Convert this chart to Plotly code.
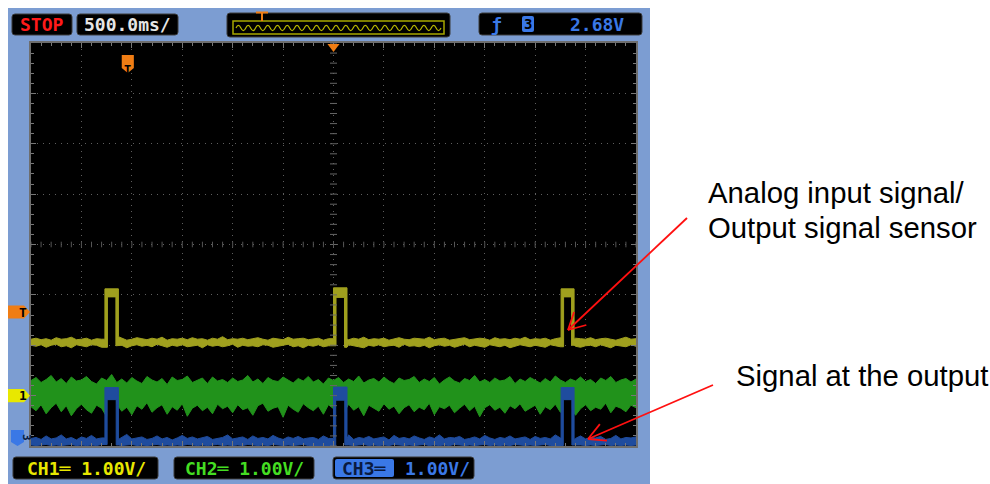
import math
import numpy as np
import plotly.graph_objects as go

# ---------------- data ----------------
# time axis: 500 ms/div, 12 divisions -> -3 s .. 3 s ; vertical: 1 V/div, 8 divisions
X_RANGE = [-3.0, 3.0]
Y_RANGE = [-4.0, 4.0]

# pulse windows (s) shared by CH1 and CH3
pulse_start = [-2.267, 0.0, 2.257]
pulse_end = [-2.133, 0.134, 2.386]

# CH1 (yellow) – baseline noise envelope and pulse plateau
yellow_hi = [
    -1.88, -1.86, -1.89, -1.87, -1.90, -1.85, -1.88, -1.87, -1.84, -1.89, -1.88,
    -1.86, -1.90, -1.87, -1.88, -1.83, -1.89, -1.87, -1.86, -1.90, -1.88, -1.85,
    -1.87, -1.89, -1.86, -1.88, -1.84, -1.90, -1.87, -1.88, -1.86, -1.89, -1.85,
    -1.88, -1.87, -1.90, -1.86, -1.88, -1.83, -1.89, -1.87, -1.88, -1.86, -1.89,
    -1.87, -1.85, -1.88, -1.90, -1.86, -1.87, -1.89, -1.84, -1.88, -1.87, -1.86,
    -1.89, -1.88, -1.86, -1.90, -1.87, -1.85, -1.88, -1.87, -1.89, -1.86, -1.88,
    -1.84, -1.89, -1.87, -1.88, -1.86, -1.90, -1.87, -1.85, -1.88, -1.89, -1.86,
    -1.87, -1.88, -1.84, -1.89, -1.87, -1.86, -1.90, -1.88, -1.87, -1.85, -1.89,
    -1.88, -1.86, -1.87, -1.90, -1.85, -1.88, -1.87, -1.89, -1.86, -1.88, -1.84,
    -1.89, -1.87, -1.88, -1.86, -1.90, -1.87, -1.85, -1.88, -1.89, -1.86, -1.87,
    -1.88, -1.85, -1.89, -1.87, -1.86, -1.88, -1.90, -1.87, -1.84, -1.88, -1.87,
]
yellow_lo = [
    -2.00, -2.02, -1.99, -2.04, -2.00, -1.98, -2.03, -2.01, -2.05, -1.99, -2.01,
    -2.03, -1.99, -2.00, -2.04, -2.01, -1.98, -2.02, -2.00, -2.05, -2.01, -1.99,
    -2.02, -2.00, -2.03, -1.98, -2.01, -2.04, -2.00, -2.02, -1.99, -2.03, -2.01,
    -2.00, -2.05, -1.99, -2.02, -2.00, -2.03, -2.01, -1.98, -2.04, -2.00, -2.02,
    -2.01, -2.03, -1.99, -2.00, -2.04, -2.02, -2.00, -1.98, -2.03, -2.01, -2.05,
    -2.00, -2.02, -1.99, -2.03, -2.01, -2.00, -2.04, -2.02, -1.99, -2.01, -2.03,
    -2.05, -2.00, -2.02, -1.99, -2.03, -2.01, -2.00, -2.04, -1.98, -2.02, -2.01,
    -2.03, -2.00, -2.05, -2.01, -1.99, -2.02, -2.00, -2.04, -2.01, -1.98, -2.03,
    -2.00, -2.02, -2.04, -1.99, -2.01, -2.03, -2.00, -2.05, -2.02, -1.99, -2.01,
    -2.03, -2.00, -2.02, -2.04, -1.99, -2.01, -2.03, -2.00, -1.98, -2.02, -2.04,
    -2.01, -2.00, -2.03, -1.99, -2.02, -2.05, -2.00, -2.01, -2.03, -1.99, -2.02,
]
yellow_top_hi = [-0.88, -0.86, -0.88]
yellow_top_lo = [-1.04, -1.05, -1.04]

# CH2 (green) – noise band envelope
green_hi = [
    -2.70, -2.64, -2.74, -2.68, -2.60, -2.73, -2.66, -2.76, -2.63, -2.71, -2.69,
    -2.62, -2.72, -2.77, -2.65, -2.70, -2.58, -2.74, -2.67, -2.75, -2.64, -2.71,
    -2.76, -2.62, -2.69, -2.73, -2.66, -2.78, -2.63, -2.70, -2.68, -2.61, -2.74,
    -2.70, -2.65, -2.76, -2.63, -2.71, -2.68, -2.74, -2.65, -2.72, -2.69, -2.60,
    -2.73, -2.67, -2.76, -2.64, -2.70, -2.72, -2.63, -2.69, -2.75, -2.66, -2.71,
    -2.62, -2.73, -2.68, -2.77, -2.65, -2.70, -2.64, -2.74, -2.67, -2.72, -2.61,
    -2.75, -2.69, -2.66, -2.73, -2.63, -2.71, -2.76, -2.65, -2.70, -2.68, -2.62,
    -2.74, -2.67, -2.72, -2.64, -2.77, -2.69, -2.63, -2.71, -2.75, -2.66, -2.70,
    -2.60, -2.73, -2.68, -2.74, -2.65, -2.71, -2.69, -2.62, -2.76, -2.67, -2.72,
    -2.64, -2.70, -2.75, -2.66, -2.73, -2.61, -2.69, -2.74, -2.67, -2.71, -2.63,
    -2.72, -2.68, -2.76, -2.65, -2.70, -2.62, -2.74, -2.69, -2.66, -2.73, -2.67,
]
green_lo = [
    -3.22, -3.30, -3.18, -3.36, -3.24, -3.15, -3.32, -3.20, -3.40, -3.26, -3.17,
    -3.28, -3.35, -3.19, -3.25, -3.42, -3.21, -3.16, -3.31, -3.23, -3.38, -3.20,
    -3.27, -3.14, -3.33, -3.24, -3.18, -3.37, -3.22, -3.29, -3.16, -3.41, -3.25,
    -3.19, -3.30, -3.23, -3.36, -3.17, -3.26, -3.21, -3.34, -3.18, -3.28, -3.24,
    -3.39, -3.20, -3.15, -3.31, -3.25, -3.22, -3.43, -3.19, -3.27, -3.33, -3.16,
    -3.24, -3.30, -3.21, -3.37, -3.18, -3.26, -3.23, -3.35, -3.17, -3.29, -3.22,
    -3.40, -3.19, -3.25, -3.31, -3.16, -3.27, -3.21, -3.36, -3.24, -3.18, -3.32,
    -3.23, -3.28, -3.15, -3.38, -3.22, -3.26, -3.19, -3.34, -3.25, -3.17, -3.30,
    -3.21, -3.42, -3.24, -3.18, -3.29, -3.23, -3.35, -3.20, -3.26, -3.16, -3.31,
    -3.25, -3.19, -3.37, -3.22, -3.28, -3.17, -3.33, -3.24, -3.20, -3.39, -3.26,
    -3.18, -3.30, -3.23, -3.27, -3.15, -3.34, -3.21, -3.25, -3.32, -3.19, -3.24,
]

# CH3 (blue) – baseline envelope and pulse plateau
blue_hi = [
    -3.85, -3.83, -3.87, -3.80, -3.86, -3.84, -3.78, -3.86, -3.83, -3.88, -3.82,
    -3.85, -3.79, -3.86, -3.84, -3.87, -3.81, -3.85, -3.83, -3.77, -3.86, -3.84,
    -3.82, -3.87, -3.85, -3.80, -3.86, -3.83, -3.88, -3.84, -3.79, -3.85, -3.82,
    -3.86, -3.84, -3.81, -3.87, -3.85, -3.83, -3.78, -3.86, -3.84, -3.82, -3.87,
    -3.80, -3.85, -3.83, -3.86, -3.79, -3.84, -3.87, -3.82, -3.85, -3.81, -3.86,
    -3.84, -3.83, -3.87, -3.80, -3.85, -3.82, -3.86, -3.84, -3.78, -3.87, -3.83,
    -3.85, -3.81, -3.86, -3.84, -3.82, -3.88, -3.79, -3.85, -3.83, -3.86, -3.80,
    -3.84, -3.87, -3.82, -3.85, -3.78, -3.86, -3.83, -3.84, -3.81, -3.87, -3.85,
    -3.82, -3.86, -3.79, -3.84, -3.87, -3.83, -3.85, -3.80, -3.86, -3.84, -3.82,
    -3.87, -3.81, -3.85, -3.83, -3.86, -3.78, -3.84, -3.87, -3.82, -3.85, -3.80,
    -3.86, -3.83, -3.84, -3.81, -3.87, -3.85, -3.79, -3.86, -3.83, -3.84, -3.82,
]
blue_lo = [
    -3.98, -3.99, -3.98, -3.97, -3.99, -3.98, -3.99, -3.98, -3.97, -3.99, -3.98,
    -3.99, -3.98, -3.99, -3.97, -3.98, -3.99, -3.98, -3.99, -3.98, -3.97, -3.99,
    -3.98, -3.99, -3.98, -3.97, -3.99, -3.98, -3.99, -3.98, -3.99, -3.97, -3.98,
    -3.99, -3.98, -3.99, -3.98, -3.97, -3.99, -3.98, -3.99, -3.98, -3.99, -3.97,
    -3.98, -3.99, -3.98, -3.99, -3.97, -3.98, -3.99, -3.98, -3.99, -3.98, -3.97,
    -3.99, -3.98, -3.99, -3.98, -3.99, -3.97, -3.98, -3.99, -3.98, -3.99, -3.98,
    -3.97, -3.99, -3.98, -3.99, -3.98, -3.99, -3.97, -3.98, -3.99, -3.98, -3.99,
    -3.98, -3.97, -3.99, -3.98, -3.99, -3.98, -3.99, -3.97, -3.98, -3.99, -3.98,
    -3.99, -3.98, -3.97, -3.99, -3.98, -3.99, -3.98, -3.99, -3.97, -3.98, -3.99,
    -3.98, -3.99, -3.98, -3.97, -3.99, -3.98, -3.99, -3.98, -3.99, -3.97, -3.98,
    -3.99, -3.98, -3.99, -3.98, -3.97, -3.99, -3.98, -3.99, -3.98, -3.99, -3.98,
]
blue_top_hi = [-2.84, -2.83, -2.84]
blue_top_lo = [-3.08, -3.09, -3.08]

# reference markers on the left edge (V) and trigger marks (s)
level_markers = [("T", -1.34, "#f07d14"), ("1", -3.00, "#e8e800")]
ch3_marker_level = -3.84
trigger_time = 0.0
trigger_ref_time = -2.04

# texts
top_texts = ["STOP", "500.0ms/", "2.68V"]
ch_labels = ["CH1═ 1.00V/", "CH2═ 1.00V/", "CH3═", "1.00V/"]
note1 = ["Analog input signal/", "Output signal sensor"]
note2 = "Signal at the output"

# ---------------- geometry helpers ----------------
W, H = 990, 484
SX0, SX1, SY0, SY1 = 31, 636, 43, 446   # screen area in px


def PX(x):
    return x / W


def PY(y):
    return 1 - y / H


def pt(x, y):
    return f"{PX(x):.5f},{PY(y):.5f}"


def rrect(x0, y0, x1, y1, r=3):
    return ("M" + pt(x0 + r, y0) + " L" + pt(x1 - r, y0) + " Q" + pt(x1, y0) + " " + pt(x1, y0 + r) +
            " L" + pt(x1, y1 - r) + " Q" + pt(x1, y1) + " " + pt(x1 - r, y1) +
            " L" + pt(x0 + r, y1) + " Q" + pt(x0, y1) + " " + pt(x0, y1 - r) +
            " L" + pt(x0, y0 + r) + " Q" + pt(x0, y0) + " " + pt(x0 + r, y0) + " Z")


def band(t, hi, lo, starts, ends, top_hi, top_lo, dw):
    ux, uy, lx, ly = [], [], [], []
    k = 0
    for ti, h, l in zip(t, hi, lo):
        while k < len(starts) and ti > starts[k]:
            s, e = starts[k], ends[k]
            bh = uy[-1] if uy else h
            bl = ly[-1] if ly else l
            ux += [s, s, e, e]
            uy += [bh, top_hi[k], top_hi[k], h]
            lx += [s, s + dw, s + dw, e - dw, e - dw, e]
            ly += [bl, bl, top_lo[k], top_lo[k], l, l]
            k += 1
        if any(s <= ti <= e for s, e in zip(starts, ends)):
            continue
        ux.append(ti); uy.append(h); lx.append(ti); ly.append(l)
    return ux + lx[::-1], uy + ly[::-1]


def grid_t(arr):
    return np.linspace(X_RANGE[0], X_RANGE[1], len(arr))


YEL = "#a0a01e"
GRN = "#21921b"
BLU = "#1f4c9e"
LBLU = "#3a78e6"
ORG = "#f07d14"

fig = go.Figure()

# CH2 green band
tg = grid_t(green_hi)
fig.add_trace(go.Scatter(x=list(tg) + list(tg[::-1]), y=green_hi + green_lo[::-1],
                         fill="toself", fillcolor=GRN, mode="lines",
                         line=dict(color=GRN, width=1), hoverinfo="skip"))

# black interior of CH3 pulses (covers CH2 below the blue plateau)
dw = 0.022
for s, e, tl in zip(pulse_start, pulse_end, blue_top_lo):
    fig.add_trace(go.Scatter(x=[s + dw, e - dw, e - dw, s + dw, s + dw],
                             y=[tl, tl, Y_RANGE[0], Y_RANGE[0], tl],
                             fill="toself", fillcolor="black", mode="lines",
                             line=dict(width=0, color="black"), hoverinfo="skip"))

# CH1 yellow
xs, ys = band(grid_t(yellow_hi), yellow_hi, yellow_lo, pulse_start, pulse_end,
              yellow_top_hi, yellow_top_lo, 0.025)
fig.add_trace(go.Scatter(x=xs, y=ys, fill="toself", fillcolor=YEL, mode="lines",
                         line=dict(color=YEL, width=1), hoverinfo="skip"))

# CH3 blue
xs, ys = band(grid_t(blue_hi), blue_hi, blue_lo, pulse_start, pulse_end,
              blue_top_hi, blue_top_lo, dw)
fig.add_trace(go.Scatter(x=xs, y=ys, fill="toself", fillcolor=BLU, mode="lines",
                         line=dict(color=BLU, width=1), hoverinfo="skip"))

# graticule ticks along the centre lines
cy = np.arange(Y_RANGE[0], Y_RANGE[1] + 1e-9, 0.2)
cx = np.arange(X_RANGE[0], X_RANGE[1] + 1e-9, 0.1)
fig.add_trace(go.Scatter(x=[0] * len(cy), y=cy, mode="markers",
                         marker=dict(symbol="line-ew", size=5, line=dict(color="#666666", width=1)),
                         hoverinfo="skip"))
fig.add_trace(go.Scatter(x=cx, y=[0] * len(cx), mode="markers",
                         marker=dict(symbol="line-ns", size=4, line=dict(color="#555555", width=1)),
                         hoverinfo="skip"))

shapes = []
# instrument panel and screen
shapes.append(dict(type="rect", xref="paper", yref="paper", x0=PX(8), x1=PX(650), y0=PY(484), y1=PY(8),
                   fillcolor="#7c9dd2", line=dict(width=0), layer="below"))
shapes.append(dict(type="rect", xref="paper", yref="paper", x0=PX(SX0), x1=PX(SX1), y0=PY(SY1), y1=PY(SY0),
                   fillcolor="black", line=dict(width=0), layer="below"))

# top status boxes
for (x0, y0, x1, y1) in [(12, 14, 72, 35), (77, 14, 178, 35), (227, 13, 450, 37), (479, 13, 642, 35)]:
    shapes.append(dict(type="path", xref="paper", yref="paper", path=rrect(x0, y0, x1, y1),
                       fillcolor="black", line=dict(color="#3c3c3c", width=1)))
# overview window
shapes.append(dict(type="rect", xref="paper", yref="paper", x0=PX(233), x1=PX(444), y0=PY(34), y1=PY(21),
                   line=dict(color="#a8a800", width=1.5)))
n_cyc, zx0, zx1, zy, za = 21, 236, 441, 28, 2.6
step = (zx1 - zx0) / n_cyc
zz = "M" + pt(zx0, zy)
for i in range(n_cyc):
    xa = zx0 + i * step
    zz += " Q" + pt(xa + step * 0.25, zy - 2 * za) + " " + pt(xa + step * 0.5, zy)
    zz += " Q" + pt(xa + step * 0.75, zy + 2 * za) + " " + pt(xa + step, zy)
shapes.append(dict(type="path", xref="paper", yref="paper", path=zz, line=dict(color="#b8b800", width=1.2)))
shapes.append(dict(type="line", xref="paper", yref="paper", x0=PX(256), x1=PX(268), y0=PY(12.5), y1=PY(12.5),
                   line=dict(color=ORG, width=2)))
shapes.append(dict(type="line", xref="paper", yref="paper", x0=PX(262), x1=PX(262), y0=PY(12.5), y1=PY(21),
                   line=dict(color=ORG, width=2)))
# "3" source box
shapes.append(dict(type="path", xref="paper", yref="paper", path=rrect(522, 16, 534, 32, 2),
                   fillcolor=LBLU, line=dict(width=0)))

# bottom channel boxes
for (x0, y0, x1, y1) in [(13, 457, 158, 479), (174, 457, 314, 479), (333, 457, 474, 479)]:
    shapes.append(dict(type="path", xref="paper", yref="paper", path=rrect(x0, y0, x1, y1),
                       fillcolor="black", line=dict(color="#3c3c3c", width=1)))
shapes.append(dict(type="path", xref="paper", yref="paper", path=rrect(335, 459, 394, 477, 2),
                   fillcolor=LBLU, line=dict(width=0)))

# left level markers (pentagon arrows) – x in paper, y in volts
hv = 0.13
for lab, lev, col in level_markers:
    path = (f"M{PX(8):.5f},{lev + hv:.4f} L{PX(24):.5f},{lev + hv:.4f} L{PX(30):.5f},{lev:.4f} "
            f"L{PX(24):.5f},{lev - hv:.4f} L{PX(8):.5f},{lev - hv:.4f} Z")
    shapes.append(dict(type="path", xref="paper", yref="y", path=path, fillcolor=col, line=dict(width=0)))
path = (f"M{PX(11):.5f},{ch3_marker_level + 0.16:.4f} L{PX(24):.5f},{ch3_marker_level + 0.16:.4f} "
        f"L{PX(24):.5f},{ch3_marker_level - 0.08:.4f} L{PX(17.5):.5f},{ch3_marker_level - 0.16:.4f} "
        f"L{PX(11):.5f},{ch3_marker_level - 0.08:.4f} Z")
shapes.append(dict(type="path", xref="paper", yref="y", path=path, fillcolor=LBLU, line=dict(width=0)))

# trigger position marker at top of screen
shapes.append(dict(type="path", xref="x", yref="paper",
                   path=f"M{trigger_time - 0.06:.3f},{PY(44):.5f} L{trigger_time + 0.06:.3f},{PY(44):.5f} "
                        f"L{trigger_time:.3f},{PY(52):.5f} Z",
                   fillcolor=ORG, line=dict(width=0)))
# trigger reference marker inside screen
tr = trigger_ref_time
shapes.append(dict(type="path", xref="x", yref="paper",
                   path=f"M{tr - 0.06:.3f},{PY(55):.5f} L{tr + 0.06:.3f},{PY(55):.5f} L{tr + 0.06:.3f},{PY(68):.5f} "
                        f"L{tr:.3f},{PY(73):.5f} L{tr - 0.06:.3f},{PY(68):.5f} Z",
                   fillcolor=ORG, line=dict(width=0)))


# red annotation arrows
def arrow(tail, tip, wing=19, ang=28):
    out = [dict(type="line", xref="paper", yref="paper", x0=PX(tail[0]), y0=PY(tail[1]),
                x1=PX(tip[0]), y1=PY(tip[1]), line=dict(color="#ff1010", width=1.8))]
    dx, dy = tail[0] - tip[0], tail[1] - tip[1]
    base = math.atan2(dy, dx)
    for sgn in (-1, 1):
        a = base + sgn * math.radians(ang)
        ex, ey = tip[0] + wing * math.cos(a), tip[1] + wing * math.sin(a)
        out.append(dict(type="line", xref="paper", yref="paper", x0=PX(tip[0]), y0=PY(tip[1]),
                        x1=PX(ex), y1=PY(ey), line=dict(color="#ff1010", width=1.8)))
    return out


shapes += arrow((687, 218), (568, 330))
shapes += arrow((713, 385), (588, 439))

ann = []
MONO = "DejaVu Sans Mono"


def txt(x, y, s, color, size=18, family=MONO, xanchor="center", weight="normal", **kw):
    ann.append(dict(x=PX(x), y=PY(y), xref="paper", yref="paper", text=s, showarrow=False,
                    xanchor=xanchor, yanchor="middle",
                    font=dict(family=family, size=size, color=color, weight=weight), **kw))


txt(42, 24.5, top_texts[0], "#ff1a1a", weight="bold")
txt(127.5, 24.5, top_texts[1], "#e6e6e6", weight="bold")
txt(496, 24, "ƒ", LBLU, size=18, weight="bold")
txt(528, 24, "3", "black", size=14, weight="bold")
txt(597, 24.5, top_texts[2], LBLU, weight="bold")
txt(86, 468, ch_labels[0], "#e8e800", weight="bold")
txt(244, 468, ch_labels[1], "#44dd22", weight="bold")
txt(364.5, 468, ch_labels[2], "#0a1a40", weight="bold")
txt(437, 468, ch_labels[3], LBLU, weight="bold")

for lab, lev, col in level_markers:
    ann.append(dict(x=PX(17), y=lev, xref="paper", yref="y", text=lab, showarrow=False,
                    font=dict(family=MONO, size=13, color="black", weight="bold")))
ann.append(dict(x=PX(17.5), y=ch3_marker_level + 0.02, xref="paper", yref="y", text="3", showarrow=False,
                textangle=90, font=dict(family=MONO, size=11, color="#0a1a40", weight="bold")))
ann.append(dict(x=tr, y=PY(61), xref="x", yref="paper", text="T", showarrow=False,
                font=dict(family=MONO, size=12, color="black", weight="bold")))

SANS = "Liberation Sans, Arial, sans-serif"
txt(706, 193, note1[0], "black", size=29.3, family=SANS, xanchor="left")
txt(706, 227, note1[1], "black", size=29.3, family=SANS, xanchor="left")
txt(734, 375, note2, "black", size=29.3, family=SANS, xanchor="left")

axis_common = dict(showticklabels=False, zeroline=False, showgrid=True, gridcolor="#5e5e5e",
                   griddash="1px,5px", gridwidth=1, showline=True, linecolor="#6e6e6e", linewidth=2,
                   mirror="allticks", ticks="inside", ticklen=5, tickcolor="#777777", fixedrange=True)
fig.update_layout(
    width=W, height=H, margin=dict(l=0, r=0, t=0, b=0),
    paper_bgcolor="white", plot_bgcolor="black", showlegend=False, hovermode=False,
    xaxis=dict(domain=[PX(SX0), PX(SX1)], range=X_RANGE, dtick=0.5,
               minor=dict(ticks="inside", ticklen=3, dtick=0.1, tickcolor="#777777", showgrid=False),
               **axis_common),
    yaxis=dict(domain=[PY(SY1), PY(SY0)], range=Y_RANGE, dtick=1,
               minor=dict(ticks="inside", ticklen=3, dtick=0.2, tickcolor="#777777", showgrid=False),
               **axis_common),
    shapes=shapes, annotations=ann,
)
fig.write_html("out.html", config={"displayModeBar": False},
               post_script="document.body.style.margin='0';document.body.style.padding='0';")
